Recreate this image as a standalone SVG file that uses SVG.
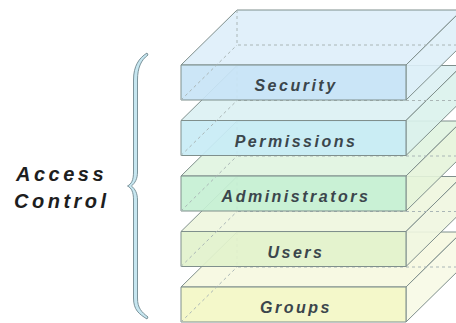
<svg xmlns="http://www.w3.org/2000/svg" width="456" height="323" viewBox="0 0 456 323">
<style>
.edge{stroke:#7f8f8c;stroke-width:1;stroke-linejoin:round}
.ft{fill:var(--t)}.fs{fill:var(--s)}.ff{fill:var(--f)}
.hid{fill:none;stroke:#aab6b6;stroke-width:1;stroke-dasharray:3 3}
.lbl{font-family:"Liberation Sans",Arial,sans-serif;font-weight:bold;font-style:italic;font-size:16px;letter-spacing:2.5px;fill:#3b464c;text-anchor:middle}
.big{font-family:"Liberation Sans",Arial,sans-serif;font-weight:bold;font-style:italic;font-size:20px;letter-spacing:3.5px;fill:#1e1e1e}
.sec{--f:#c8e4f6;--t:#deeef9;--s:#def0f8}
.per{--f:#c8ecf5;--t:#dcf1f3;--s:#daf2ec}
.adm{--f:#c6f0d4;--t:#e0f4e0;--s:#e6f4da}
.usr{--f:#e2f2cc;--t:#eef6de;--s:#eff6e0}
.grp{--f:#f3f7c6;--t:#f6f8e0;--s:#f7f9e6}
</style>
<defs>
<g id="slab">
<polygon class="ft edge" points="181,0 237,-55 462,-55 406,0" fill-opacity="0.9"/>
<polygon class="fs edge" points="406,0 462,-55 462,-20 406,35" fill-opacity="0.9"/>
<rect class="ff edge" x="181" y="0" width="225" height="35" fill-opacity="0.92"/>
<path class="hid" d="M237,-55 V-20 H462 M181,35 L237,-20"/>
</g>
</defs>
<g id="connectors"></g>
<g id="groups" class="grp" transform="translate(0,287)">
<use href="#slab"/>
<text class="lbl" x="296" y="26">Groups</text>
</g>
<g id="users" class="usr" transform="translate(0,231.5)">
<use href="#slab"/>
<text class="lbl" x="296" y="26">Users</text>
</g>
<g id="administrators" class="adm" transform="translate(0,176)">
<use href="#slab"/>
<text class="lbl" x="296" y="26">Administrators</text>
</g>
<g id="permissions" class="per" transform="translate(0,120.5)">
<use href="#slab"/>
<text class="lbl" x="296" y="26">Permissions</text>
</g>
<g id="security" class="sec" transform="translate(0,65)">
<use href="#slab"/>
<text class="lbl" x="296" y="26">Security</text>
</g>
<g id="access-control">
<path d="M147,53 C139,58 133.5,66 133.5,80 L133.5,172 C133.5,180 131.5,184 127.5,186 C131.5,188 133.5,192 133.5,200 L133.5,298 C133.5,310 139,314 147,319 L148,317 C141.5,312 137.5,308 137.5,298 L137.5,200 C137.5,193 135,189 131.5,186 C135,183 137.5,179 137.5,172 L137.5,80 C137.5,68 141,60 148,55 Z" fill="#c6e6f0" stroke="#6f8890" stroke-width="0.9"/>
<text class="big" x="16" y="181">Access</text>
<text class="big" x="14" y="208">Control</text>
</g>
</svg>
